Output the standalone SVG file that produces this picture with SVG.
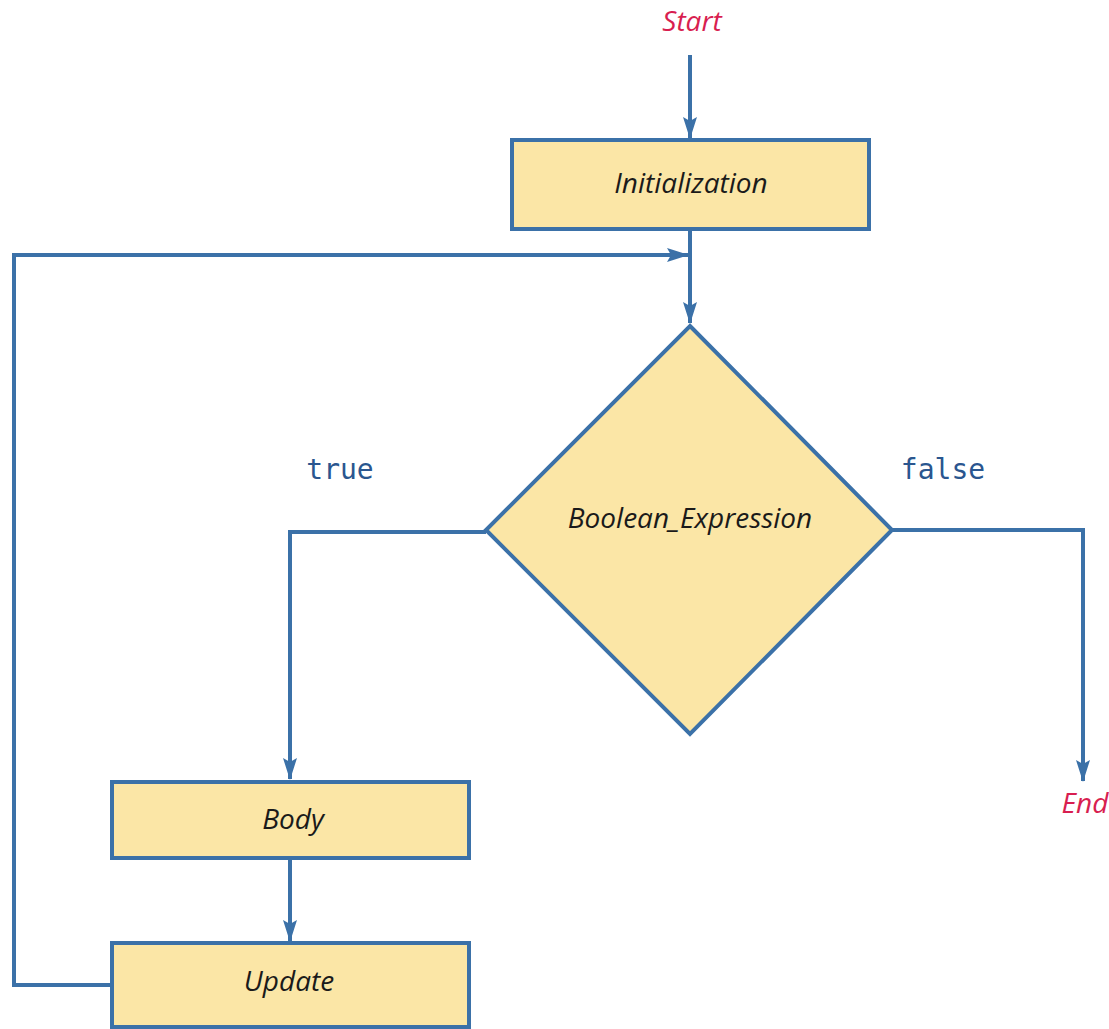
<svg xmlns="http://www.w3.org/2000/svg" width="1109" height="1029" viewBox="0 0 1109 1029">
<style>
.box{fill:#fbe6a6;stroke:#3b71a8;stroke-width:4}
.ln{fill:none;stroke:#3b71a8;stroke-width:4}
.lbl{font-family:"Open Sans","DejaVu Sans",sans-serif;font-style:italic;font-size:28px;fill:#1a1a1a;text-anchor:middle}
.term{font-family:"Open Sans","DejaVu Sans",sans-serif;font-style:italic;font-size:28px;fill:#d81e50;text-anchor:middle}
.code{font-family:"DejaVu Sans Mono","Liberation Mono",monospace;font-size:28px;fill:#2a568f;text-anchor:middle}
</style>
<defs>
<marker id="ah" viewBox="0 0 22 16" refX="21" refY="8" markerWidth="22" markerHeight="16" markerUnits="userSpaceOnUse" orient="auto">
<path d="M0,1 L4,8 L0,15 L22,8 Z" fill="#3b71a8"/>
</marker>
</defs>
<g id="connectors">
<line class="ln" x1="690" y1="55" x2="690" y2="138" marker-end="url(#ah)"/>
<line class="ln" x1="690" y1="229" x2="690" y2="323" marker-end="url(#ah)"/>
<polyline class="ln" points="111,985 14,985 14,255 688,255" marker-end="url(#ah)"/>
<polyline class="ln" points="486,532 290,532 290,779" marker-end="url(#ah)"/>
<line class="ln" x1="290" y1="858" x2="290" y2="941" marker-end="url(#ah)"/>
<polyline class="ln" points="892,530 1083,530 1083,781" marker-end="url(#ah)"/>
</g>
<g id="start"><text class="term" x="692" y="31">Start</text></g>
<g id="init">
<rect class="box" x="512" y="140" width="357" height="89"/>
<text class="lbl" x="691" y="193">Initialization</text>
</g>
<g id="cond">
<polygon class="box" points="690,326 892,530 690,734 486,530"/>
<text class="lbl" x="690" y="528">Boolean_Expression</text>
</g>
<g id="true-label"><text class="code" x="340" y="479">true</text></g>
<g id="false-label"><text class="code" x="943" y="479">false</text></g>
<g id="body">
<rect class="box" x="112" y="782" width="357" height="76"/>
<text class="lbl" x="293" y="829">Body</text>
</g>
<g id="update">
<rect class="box" x="112" y="943" width="357" height="84"/>
<text class="lbl" x="289" y="991">Update</text>
</g>
<g id="end"><text class="term" x="1085" y="813">End</text></g>
</svg>
